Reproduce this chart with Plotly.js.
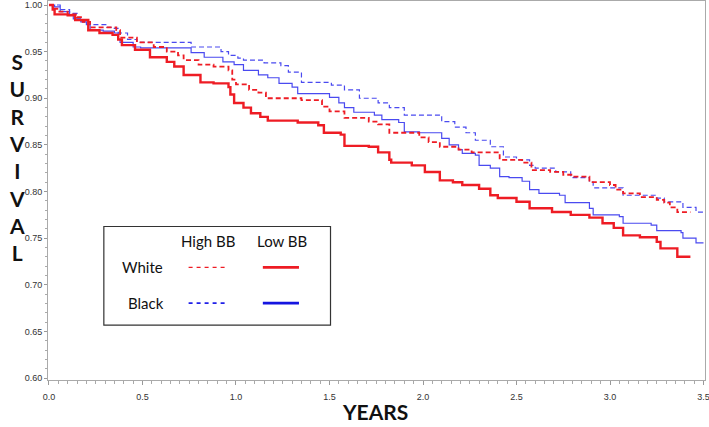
<!DOCTYPE html>
<html>
<head>
<meta charset="utf-8">
<script src="https://cdn.plot.ly/plotly-3.0.1.min.js"></script>
<style>
  html, body { margin: 0; padding: 0; background: #ffffff; }
  #survivalChart { width: 709px; height: 427px; }
</style>
</head>
<body>
<div id="survivalChart"></div>
<script>
// White, low BB (thick solid red)
const whiteLowYears = [0, 0.02, 0.03, 0.10, 0.14, 0.21, 0.27, 0.34, 0.37, 0.39, 0.46, 0.54, 0.63, 0.67, 0.72, 0.81, 0.88, 0.96, 0.97, 0.99, 1.04, 1.08, 1.13, 1.17, 1.33, 1.44, 1.47, 1.56, 1.58, 1.71, 1.76, 1.82, 1.83, 1.94, 2.01, 2.09, 2.16, 2.21, 2.30, 2.36, 2.40, 2.50, 2.57, 2.69, 2.79, 2.89, 2.96, 3.02, 3.07, 3.16, 3.25, 3.27, 3.36, 3.43];
const whiteLowSurv = [1.000, 0.995, 0.990, 0.989, 0.984, 0.973, 0.970, 0.968, 0.963, 0.957, 0.952, 0.944, 0.939, 0.934, 0.925, 0.917, 0.916, 0.912, 0.904, 0.895, 0.890, 0.884, 0.880, 0.876, 0.874, 0.871, 0.863, 0.861, 0.849, 0.848, 0.842, 0.834, 0.831, 0.828, 0.821, 0.812, 0.810, 0.807, 0.803, 0.796, 0.793, 0.789, 0.782, 0.778, 0.775, 0.772, 0.766, 0.761, 0.753, 0.751, 0.746, 0.739, 0.730, 0.730];

// White, high BB (dashed red)
const whiteHighYears = [0, 0.02, 0.05, 0.10, 0.15, 0.18, 0.22, 0.36, 0.38, 0.47, 0.56, 0.63, 0.69, 0.72, 0.80, 0.88, 0.96, 0.98, 1.00, 1.07, 1.12, 1.16, 1.35, 1.46, 1.50, 1.58, 1.71, 1.76, 1.82, 1.98, 2.03, 2.09, 2.19, 2.26, 2.41, 2.53, 2.58, 2.68, 2.75, 2.80, 2.89, 3.00, 3.03, 3.07, 3.16, 3.25, 3.29, 3.32, 3.36, 3.43];
const whiteHighSurv = [1.000, 0.996, 0.993, 0.990, 0.987, 0.982, 0.976, 0.973, 0.965, 0.960, 0.955, 0.950, 0.946, 0.941, 0.936, 0.934, 0.930, 0.920, 0.915, 0.909, 0.906, 0.900, 0.898, 0.891, 0.886, 0.879, 0.875, 0.872, 0.863, 0.858, 0.853, 0.848, 0.845, 0.842, 0.834, 0.831, 0.823, 0.821, 0.818, 0.816, 0.810, 0.807, 0.802, 0.798, 0.794, 0.791, 0.788, 0.783, 0.778, 0.778];

// Black, low BB (thin solid blue)
const blackLowYears = [0, 0.03, 0.06, 0.11, 0.13, 0.17, 0.20, 0.22, 0.29, 0.35, 0.37, 0.38, 0.45, 0.49, 0.76, 0.83, 0.93, 0.99, 1.04, 1.12, 1.17, 1.23, 1.30, 1.33, 1.50, 1.55, 1.58, 1.63, 1.74, 1.78, 1.87, 1.90, 1.98, 2.10, 2.14, 2.19, 2.21, 2.28, 2.30, 2.36, 2.41, 2.46, 2.53, 2.57, 2.62, 2.73, 2.76, 2.89, 2.91, 3.05, 3.07, 3.22, 3.25, 3.38, 3.39, 3.46, 3.50];
const blackLowSurv = [1.000, 0.998, 0.993, 0.989, 0.985, 0.982, 0.979, 0.973, 0.972, 0.970, 0.963, 0.960, 0.955, 0.954, 0.949, 0.944, 0.939, 0.936, 0.930, 0.925, 0.922, 0.916, 0.912, 0.905, 0.901, 0.895, 0.890, 0.885, 0.882, 0.877, 0.874, 0.864, 0.863, 0.857, 0.850, 0.845, 0.841, 0.839, 0.828, 0.825, 0.816, 0.815, 0.811, 0.802, 0.798, 0.796, 0.788, 0.782, 0.775, 0.773, 0.766, 0.764, 0.758, 0.756, 0.750, 0.745, 0.745];

// Black, high BB (thin dashed blue)
const blackHighYears = [0, 0.06, 0.11, 0.15, 0.18, 0.22, 0.31, 0.34, 0.37, 0.42, 0.47, 0.76, 0.92, 0.96, 1.01, 1.04, 1.15, 1.24, 1.28, 1.35, 1.51, 1.58, 1.66, 1.76, 1.82, 1.90, 2.10, 2.17, 2.23, 2.28, 2.36, 2.43, 2.50, 2.57, 2.60, 2.71, 2.79, 2.89, 2.91, 3.07, 3.25, 3.29, 3.39, 3.46, 3.50];
const blackHighSurv = [1.000, 0.995, 0.991, 0.986, 0.982, 0.979, 0.976, 0.975, 0.970, 0.963, 0.960, 0.955, 0.950, 0.946, 0.943, 0.941, 0.938, 0.935, 0.928, 0.917, 0.914, 0.909, 0.900, 0.895, 0.890, 0.882, 0.875, 0.869, 0.863, 0.855, 0.848, 0.837, 0.834, 0.828, 0.825, 0.821, 0.815, 0.810, 0.804, 0.796, 0.793, 0.789, 0.783, 0.778, 0.778];

const xTicks = [0, 0.5, 1.0, 1.5, 2.0, 2.5, 3.0, 3.5];
const yTicks = [0.60, 0.65, 0.70, 0.75, 0.80, 0.85, 0.90, 0.95, 1.00];

const RED = '#ee1c24';
const BLUE = '#4a4af0';

function stepTrace(x, y, color, width, dash, name) {
  return {
    x: x,
    y: y,
    type: 'scatter',
    mode: 'lines',
    name: name,
    line: { shape: 'hv', color: color, width: width, dash: dash },
    hoverinfo: 'skip',
  };
}

const traces = [
  stepTrace(blackHighYears, blackHighSurv, BLUE, 1.2, '5px,3px', 'Black High BB'),
  stepTrace(blackLowYears, blackLowSurv, BLUE, 1.2, 'solid', 'Black Low BB'),
  stepTrace(whiteHighYears, whiteHighSurv, RED, 1.8, '5px,3px', 'White High BB'),
  stepTrace(whiteLowYears, whiteLowSurv, RED, 2.4, 'solid', 'White Low BB'),
];

const tickFont = { family: 'Liberation Sans, Arial, sans-serif', size: 9, color: '#333333' };
const titleFont = { family: 'Lato, Open Sans, sans-serif', size: 21, color: '#111111', weight: 'bold' };
const legendFont = { family: 'Lato, Open Sans, sans-serif', size: 15, color: '#111111' };

// legend box drawn by hand (2x2 layout)
const shapes = [
  { type: 'rect', xref: 'paper', yref: 'paper', x0: 0.085, x1: 0.43, y0: 0.145, y1: 0.405,
    line: { color: '#333333', width: 1.2 }, fillcolor: '#ffffff' },
  { type: 'line', xref: 'paper', yref: 'paper', x0: 0.214, x1: 0.272, y0: 0.297, y1: 0.297,
    line: { color: RED, width: 1.3, dash: '4px,4px' } },
  { type: 'line', xref: 'paper', yref: 'paper', x0: 0.327, x1: 0.382, y0: 0.297, y1: 0.297,
    line: { color: RED, width: 2.8 } },
  { type: 'line', xref: 'paper', yref: 'paper', x0: 0.214, x1: 0.272, y0: 0.203, y1: 0.203,
    line: { color: '#2020e8', width: 1.8, dash: '4px,4px' } },
  { type: 'line', xref: 'paper', yref: 'paper', x0: 0.327, x1: 0.382, y0: 0.203, y1: 0.203,
    line: { color: '#1515e0', width: 2.8 } },
];

const annotations = [
  { text: 'High BB', x: 0.243, y: 0.368 },
  { text: 'Low BB', x: 0.356, y: 0.368 },
  { text: 'White', x: 0.144, y: 0.297 },
  { text: 'Black', x: 0.149, y: 0.203 },
].map((a) => ({
  ...a,
  xref: 'paper',
  yref: 'paper',
  showarrow: false,
  font: legendFont,
  xanchor: 'center',
  yanchor: 'middle',
}));

annotations.push({
  text: 'S<br>U<br>R<br>V<br>I<br>V<br>A<br>L',
  xref: 'paper', yref: 'paper',
  x: -0.047, y: 0.588,
  showarrow: false,
  font: titleFont,
  xanchor: 'center', yanchor: 'middle',
});

annotations.push({
  text: 'YEARS',
  xref: 'paper', yref: 'paper',
  x: 0.497, y: -0.082,
  showarrow: false,
  font: titleFont,
  xanchor: 'center', yanchor: 'middle',
});

const layout = {
  width: 709,
  height: 427,
  margin: { l: 48, r: 4, t: 1, b: 47 },
  paper_bgcolor: '#ffffff',
  plot_bgcolor: '#ffffff',
  showlegend: false,
  xaxis: {
    range: [-0.0053, 3.508],
    tickvals: xTicks,
    ticktext: xTicks.map((v) => v.toFixed(1)),
    ticks: 'outside',
    ticklen: 4,
    tickcolor: '#999999',
    tickfont: tickFont,
    ticklabelstandoff: 4,
    ticklabeloverflow: 'allow',
    minor: { dtick: 0.05, ticks: 'outside', ticklen: 3, tickcolor: '#aaaaaa' },
    showgrid: false,
    zeroline: false,
    showline: true,
    linecolor: '#aaaaaa',
    linewidth: 1,
    mirror: true,
  },
  yaxis: {
    range: [0.5979, 1.0043],
    tickvals: yTicks,
    ticktext: yTicks.map((v) => v.toFixed(2)),
    ticks: 'outside',
    ticklen: 3,
    tickcolor: '#999999',
    tickfont: tickFont,
    minor: { dtick: 0.01, ticks: 'outside', ticklen: 2, tickcolor: '#aaaaaa' },
    showgrid: false,
    zeroline: false,
    showline: true,
    linecolor: '#aaaaaa',
    linewidth: 1,
    mirror: true,
  },
  shapes: shapes,
  annotations: annotations,
};

const config = {
  responsive: false,
  displayModeBar: false,
  staticPlot: true,
};

Plotly.newPlot('survivalChart', traces, layout, config);
</script>
</body>
</html>
